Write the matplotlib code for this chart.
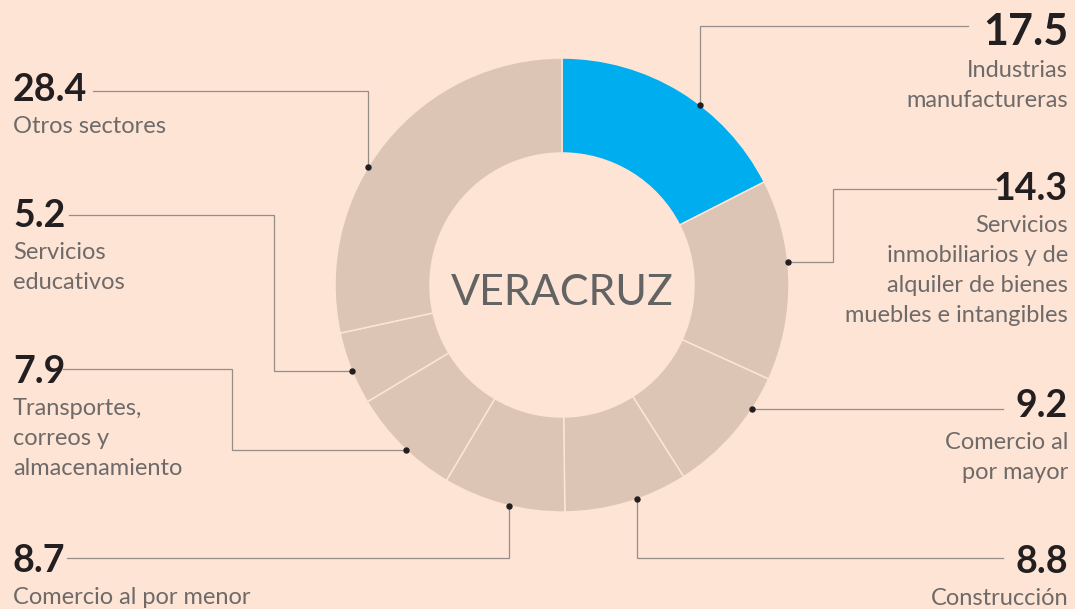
import numpy as np
import matplotlib.pyplot as plt

# data
sectors = ['Industrias\nmanufactureras',
           'Servicios\ninmobiliarios y de\nalquiler de bienes\nmuebles e intangibles',
           'Comercio al\npor mayor',
           'Construcción',
           'Comercio al por menor',
           'Transportes,\ncorreos y\nalmacenamiento',
           'Servicios\neducativos',
           'Otros sectores']
shares = [17.5, 14.3, 9.2, 8.8, 8.7, 7.9, 5.2, 28.4]
highlight = 'Industrias\nmanufactureras'
state = 'VERACRUZ'

# style
W, H = 1075, 609
BG = '#fde4d5'
TAN = '#dcc5b5'
BLUE = '#00adef'
LINE = '#968d88'
DARK = '#231f20'
GRAY = '#6e6a69'
FONT = 'Lato'

cx, cy = 562, 285
r_out, r_in = 227, 132

# label layout in pixels (y from top): side, number baseline, leader path
# last point of each path has one None -> filled in where it meets the ring
layout = [
    ('right', 45, [(968, 26), (700, 26), (700, None)]),
    ('right', 200, [(996, 189), (833, 189), (833, 262), (None, 262)]),
    ('right', 417, [(1003, 409), (None, 409)]),
    ('right', 573, [(1003, 558), (637, 558), (637, None)]),
    ('left', 572, [(67, 558), (509, 558), (509, None)]),
    ('left', 383, [(63, 369), (232, 369), (232, 450), (None, 450)]),
    ('left', 227, [(69, 215), (274, 215), (274, 371), (None, 371)]),
    ('left', 101, [(93, 91), (368, 91), (368, None)]),
]
x_left, x_right = 13, 1068
gap_label, line_step = 32, 30

fig = plt.figure(figsize=(W / 100, H / 100), dpi=100, facecolor=BG)
ax = fig.add_axes([0, 0, 1, 1])
ax.set_facecolor(BG)

colors = [BLUE if s == highlight else TAN for s in sectors]
# y axis is inverted below, so start at -90 and go counterclockwise
# in data space to get top / clockwise on screen
ax.pie(shares, colors=colors, startangle=-90, counterclock=True,
       radius=r_out, center=(cx, cy),
       wedgeprops=dict(width=r_out - r_in, edgecolor=BG, linewidth=1.1))

ax.set_xlim(0, W)
ax.set_ylim(H, 0)
ax.set_aspect('auto')
ax.axis('off')

for val, name, (side, base, path) in zip(shares, sectors, layout):
    pts = [list(p) for p in path]
    px, py = pts[-2]
    x, y = pts[-1]
    if y is None:
        dy = np.sqrt(r_out**2 - (x - cx)**2)
        y = cy - dy if py < cy else cy + dy
    else:
        dx = np.sqrt(r_out**2 - (y - cy)**2)
        x = cx - dx if px < cx else cx + dx
    pts[-1] = [x, y]
    xs, ys = zip(*pts)
    ax.plot(xs, ys, color=LINE, lw=0.9, solid_joinstyle='miter', zorder=3)
    ax.plot([x], [y], 'o', color=DARK, ms=3.6, zorder=4)

    ha = 'left' if side == 'left' else 'right'
    tx = x_left if side == 'left' else x_right
    size = 31 if name == highlight else 27
    ax.text(tx, base, f'{val:.1f}', ha=ha, va='baseline', fontsize=size,
            fontweight='bold', color=DARK, family=FONT)
    for i, line in enumerate(name.split('\n')):
        ax.text(tx, base + gap_label + i * line_step, line, ha=ha,
                va='baseline', fontsize=17, color=GRAY, family=FONT)

ax.text(cx, 305, state, ha='center', va='baseline', fontsize=31,
        color='#636363', family=FONT)

fig.savefig('out.png', dpi=100, facecolor=BG)
